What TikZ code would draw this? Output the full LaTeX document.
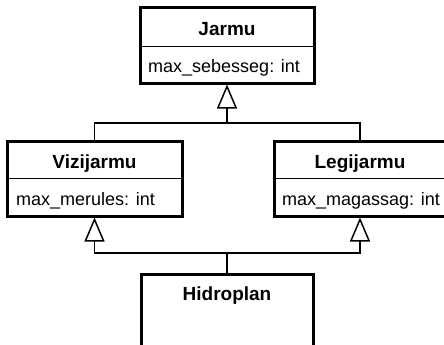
\documentclass[tikz,border=0pt]{standalone}
\usepackage{fontspec}
\setmainfont{Liberation Sans}
\usetikzlibrary{arrows.meta}
\begin{document}
\begin{tikzpicture}[x=1pt,y=-1pt,
  classbox/.style={draw=black,line width=3pt,fill=white,inner sep=0pt},
  divider/.style={line width=1.5pt},
  conn/.style={line width=1.5pt},
  inherit/.style={conn,-{Triangle[open,width=20pt,length=24pt,line width=1.5pt]}},
  title/.style={anchor=base,inner sep=0pt,font=\fontsize{19}{22}\selectfont\bfseries},
  attr/.style={anchor=base west,inner sep=0pt,font=\fontsize{18}{21}\selectfont}]
\clip (0,0) rectangle (444,345);
\fill[white] (0,0) rectangle (444,345);
% boxes
\node[classbox,minimum width=174pt,minimum height=75pt] (jarmu) at (227,45.5) {};
\node[classbox,minimum width=175pt,minimum height=75pt] (viz) at (94.5,178.5) {};
\node[classbox,minimum width=172pt,minimum height=75pt] (leg) at (360,178.5) {};
\node[classbox,minimum width=172pt,minimum height=120pt] (hidro) at (227,334) {};
% dividers
\draw[divider] ([yshift=-40pt]jarmu.north west) -- ([yshift=-40pt]jarmu.north east);
\draw[divider] ([yshift=-39pt]viz.north west) -- ([yshift=-39pt]viz.north east);
\draw[divider] ([yshift=-39pt]leg.north west) -- ([yshift=-39pt]leg.north east);
% texts
\node[title] (jt) at (227,36) {Jarmu};
\node[attr] (ja) at (148,73) {max\_sebesseg: int};
\node[title] (vt) at (94.5,168) {Vizijarmu};
\node[attr] (va) at (16,205) {max\_merules: int};
\node[title] (lt) at (360,168) {Legijarmu};
\node[attr] (la) at (282,205) {max\_magassag: int};
\node[title] (ht) at (227,300) {Hidroplan};
% connectors
\coordinate (j1) at (227,123);
\coordinate (h1) at (227,253);
\draw[inherit] (j1) -- (jarmu.south);
\draw[conn] (viz.north) |- (j1);
\draw[conn] (leg.north) |- (j1);
\draw[conn] (hidro.north) -- (h1);
\draw[inherit] (h1) -| (viz.south);
\draw[inherit] (h1) -| (leg.south);
\end{tikzpicture}
\end{document}
